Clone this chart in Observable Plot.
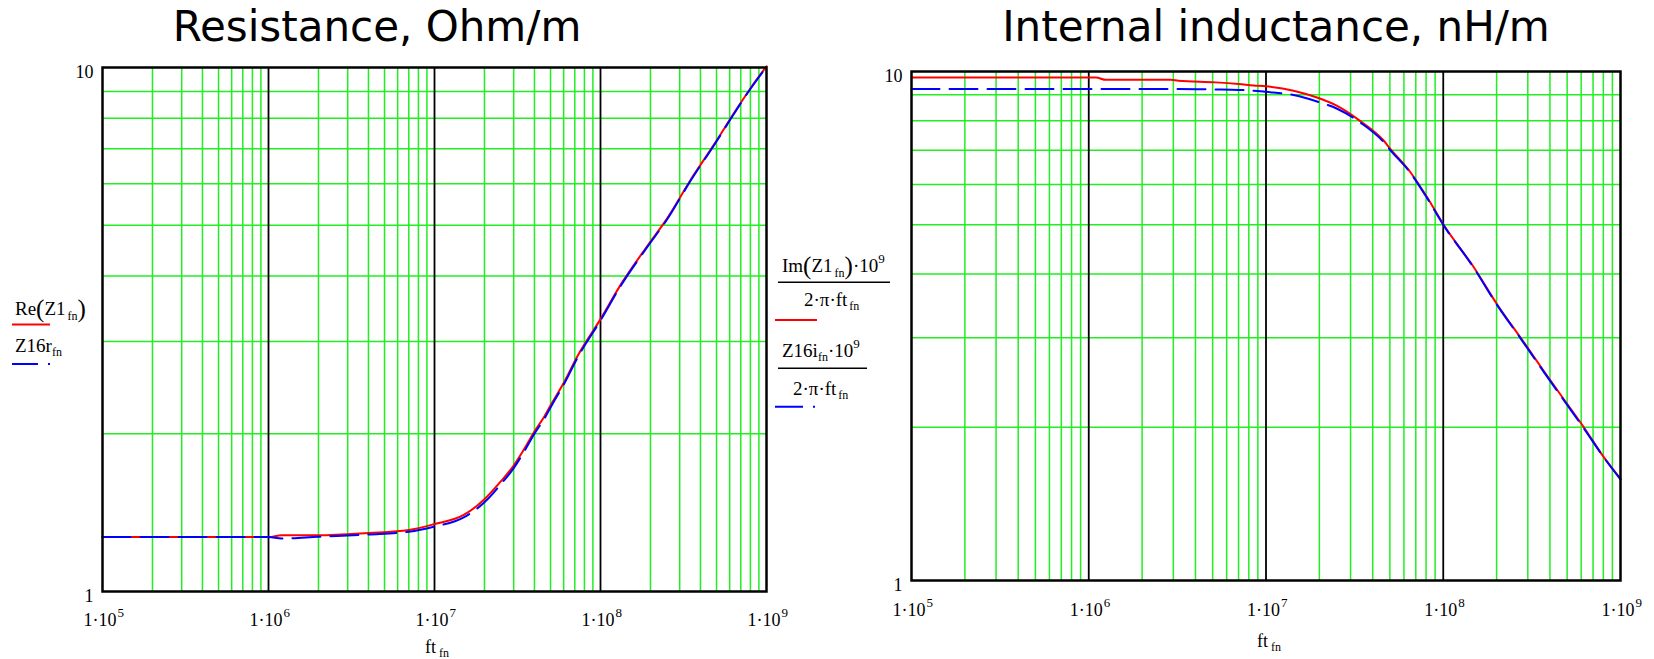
<!DOCTYPE html>
<html>
<head>
<meta charset="utf-8">
<script src="https://cdn.jsdelivr.net/npm/d3@7"></script>
<script src="https://cdn.jsdelivr.net/npm/@observablehq/plot@0.6"></script>
<style>
  html, body { margin: 0; padding: 0; background: #fff; }
  #wrap { position: relative; width: 1654px; height: 659px; overflow: hidden; }
  #left, #right, #overlay { position: absolute; top: 0; }
  #left { left: 0; }
  #right { left: 850px; }
  #overlay { left: 0; z-index: 5; pointer-events: none; }
  svg text { font-family: "Liberation Serif", "Times New Roman", serif; }
  svg text.ttl { font-family: "DejaVu Sans", Verdana, sans-serif; font-size: 42px; }
</style>
</head>
<body>
<div id="wrap">
  <div id="left"></div>
  <div id="right"></div>
  <svg id="overlay" width="1654" height="659" xmlns="http://www.w3.org/2000/svg">
    <g fill="#000">
      <text class="ttl" x="377" y="41" text-anchor="middle">Resistance, Ohm/m</text>
      <text class="ttl" x="1276" y="41" text-anchor="middle">Internal inductance, nH/m</text>
    </g>
    <!-- x axis labels -->
    <g font-size="18" fill="#000">
      <text x="437" y="653" text-anchor="middle">ft<tspan font-size="12" dy="4" dx="3">fn</tspan></text>
      <text x="1269" y="647" text-anchor="middle">ft<tspan font-size="12" dy="4" dx="3">fn</tspan></text>
    </g>
    <!-- left legend -->
    <g font-size="19" fill="#000">
      <text x="15" y="315">Re<tspan font-size="25" dy="2">(</tspan><tspan font-size="19" dy="-2">Z1</tspan><tspan font-size="12" dy="5" dx="2">fn</tspan><tspan font-size="25" dy="-3">)</tspan></text>
      <line x1="12" x2="50" y1="324.5" y2="324.5" stroke="#ff0000" stroke-width="2"/>
      <text x="15" y="352">Z16r<tspan font-size="12" dy="4">fn</tspan></text>
      <line x1="12" x2="50" y1="364" y2="364" stroke="#0000ff" stroke-width="2" stroke-dasharray="26 10"/>
    </g>
    <!-- right legend -->
    <g font-size="19" fill="#000">
      <text x="782" y="272">Im<tspan font-size="25" dy="2">(</tspan><tspan font-size="19" dy="-2">Z1</tspan><tspan font-size="12" dy="5" dx="2">fn</tspan><tspan font-size="25" dy="-3">)</tspan><tspan font-size="19" dy="-2">·10</tspan><tspan font-size="13" dy="-9">9</tspan></text>
      <line x1="778" x2="890" y1="282.3" y2="282.3" stroke="#000" stroke-width="1.4"/>
      <text x="804" y="306">2·π·ft<tspan font-size="12" dy="4" dx="2">fn</tspan></text>
      <line x1="775" x2="817" y1="320" y2="320" stroke="#ff0000" stroke-width="2"/>
      <text x="782" y="357">Z16i<tspan font-size="12" dy="4">fn</tspan><tspan font-size="19" dy="-4">·10</tspan><tspan font-size="13" dy="-9">9</tspan></text>
      <line x1="778" x2="867" y1="368.3" y2="368.3" stroke="#000" stroke-width="1.4"/>
      <text x="793" y="395">2·π·ft<tspan font-size="12" dy="4" dx="2">fn</tspan></text>
      <line x1="775" x2="815" y1="406.7" y2="406.7" stroke="#0000ff" stroke-width="2" stroke-dasharray="28 10"/>
    </g>
  </svg>
</div>
<script>
// ---- data ----
// Left chart: resistance, Ohm/m
const freqR = [1e5, 1e6, 1.2e6, 2e6, 4e6, 7e6, 1e7, 1.5e7, 2e7, 2.5e7, 3e7, 3.4e7, 4e7, 4.6e7, 5.14e7, 6e7, 7.3e7, 1e8, 1.33e8, 1.92e8, 2.54e8, 3.51e8, 4.85e8, 6.4e8, 8.07e8, 1e9];
const reZ1 = [1.27, 1.27, 1.28, 1.28, 1.293, 1.31, 1.345, 1.40, 1.50, 1.62, 1.74, 1.85, 2.02, 2.16, 2.30, 2.50, 2.82, 3.31, 3.86, 4.57, 5.17, 6.12, 7.14, 8.2, 9.16, 10.05];
const z16r = [1.27, 1.27, 1.262, 1.272, 1.285, 1.30, 1.33, 1.385, 1.48, 1.60, 1.72, 1.83, 2.00, 2.14, 2.28, 2.48, 2.80, 3.29, 3.84, 4.55, 5.15, 6.10, 7.12, 8.18, 9.14, 10.03];

// Right chart: internal inductance, nH/m
const freqL = [1e5, 1.1e6, 1.25e6, 2.9e6, 3.2e6, 5.2e6, 7e6, 8.5e6, 1e7, 1.43e7, 1.94e7, 2.52e7, 3.42e7, 4.62e7, 5.04e7, 6.53e7, 8.11e7, 1e8, 1.49e8, 2.01e8, 2.73e8, 3.69e8, 4.79e8, 6.21e8, 8.05e8, 1e9];
const imZ1L = [9.73, 9.73, 9.63, 9.63, 9.59, 9.52, 9.45, 9.39, 9.35, 9.17, 8.89, 8.56, 7.98, 7.31, 7.04, 6.34, 5.66, 5.01, 4.12, 3.49, 3.0, 2.58, 2.27, 2.0, 1.747, 1.584];
const z16iL = [9.24, 9.24, 9.24, 9.24, 9.24, 9.22, 9.2, 9.17, 9.12, 8.99, 8.73, 8.45, 7.93, 7.26, 7.0, 6.32, 5.64, 5.0, 4.11, 3.48, 2.99, 2.57, 2.26, 1.99, 1.745, 1.58];

// ticks and grid
const xTicks = [1e5, 1e6, 1e7, 1e8, 1e9];
const xTickBase = ["1·10", "1·10", "1·10", "1·10", "1·10"];
const xTickExp = ["5", "6", "7", "8", "9"];
const yTicks = [1, 10];
const yTickLabels = ["1", "10"];
const decades = [1e5, 1e6, 1e7, 1e8];
const minorMults = [2, 3, 4, 5, 6, 7, 8, 9];
const xMajor = [1e6, 1e7, 1e8];

const GREEN = "#22ee22";
const xMinor = decades.flatMap(d => minorMults.map(m => d * m));
const yMinor = minorMults;

function makeChart(o) {
  const data = o.freq.map((f, i) => ({ f, a: o.red[i], b: o.blue[i] }));
  return Plot.plot({
    width: o.width, height: 659,
    marginLeft: o.ml, marginRight: o.mr, marginTop: o.mt, marginBottom: o.mb,
    style: { background: "transparent", overflow: "visible", fontFamily: "Liberation Serif, serif" },
    x: { type: "log", domain: [1e5, 1e9], axis: null },
    y: { type: "log", domain: [1, 10], axis: null },
    marks: [
      Plot.ruleX(xMinor, { stroke: GREEN, strokeWidth: 1.5 }),
      Plot.ruleY(yMinor, { stroke: GREEN, strokeWidth: 1.5 }),
      Plot.ruleX(xMajor, { stroke: "#000", strokeWidth: 1.8 }),
      Plot.line(data, { x: "f", y: "a", stroke: "#ff0000", strokeWidth: 2, curve: "monotone-x" }),
      Plot.line(data, { x: "f", y: "b", stroke: "#0000ff", strokeWidth: 2, strokeDasharray: "28 10", curve: "monotone-x" }),
      Plot.frame({ stroke: "#000", strokeWidth: 2.5 }),
      Plot.text(xTicks, { x: d => d, frameAnchor: "bottom", text: (d, i) => xTickBase[i], textAnchor: "end", lineAnchor: "bottom", dx: 14, dy: o.xdy, fontSize: 18, fill: "#000" }),
      Plot.text(xTicks, { x: d => d, frameAnchor: "bottom", text: (d, i) => xTickExp[i], textAnchor: "start", lineAnchor: "bottom", dx: 15, dy: o.xdy - 9, fontSize: 13, fill: "#000" }),
      Plot.text(yTicks, { y: d => d, frameAnchor: "left", text: (d, i) => yTickLabels[i], textAnchor: "end", lineAnchor: "bottom", dx: -9, dy: 10, fontSize: 18, fill: "#000" })
    ]
  });
}

document.getElementById("left").append(makeChart({
  freq: freqR, red: reZ1, blue: z16r,
  width: 800, ml: 102, mr: 34, mt: 67, mb: 68, xdy: 34
}));
document.getElementById("right").append(makeChart({
  freq: freqL, red: imZ1L, blue: z16iL,
  width: 804, ml: 61, mr: 34, mt: 71, mb: 79, xdy: 35
}));
</script>
</body>
</html>
